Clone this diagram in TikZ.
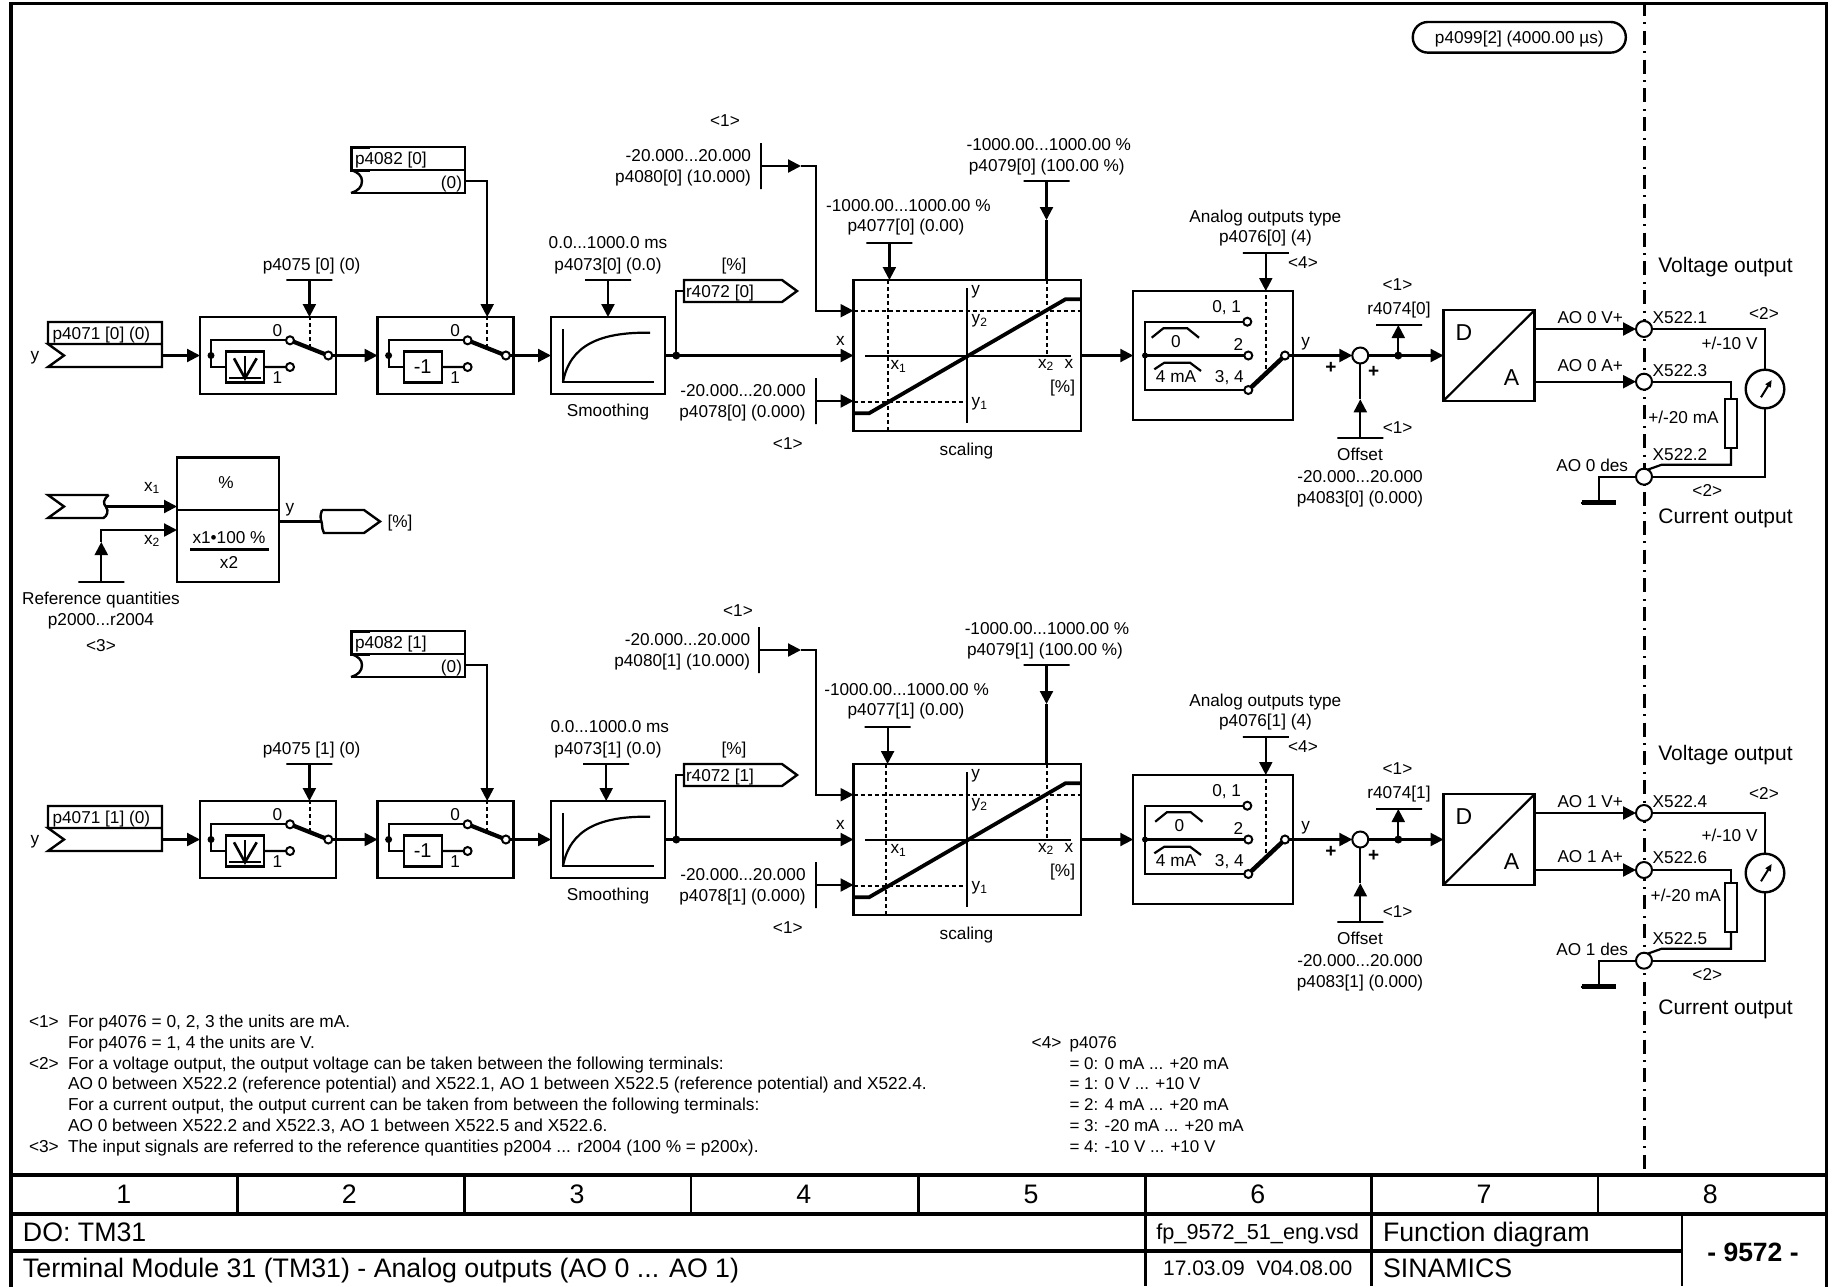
\documentclass[tikz,border=0pt]{standalone}
\usepackage{fontspec}
\setmainfont{Liberation Sans}
\usetikzlibrary{arrows.meta}
\tikzset{
  wire/.style={line width=2.2pt},
  sig/.style={wire,-{Triangle[length=13pt,width=13pt]}},
  dotted line/.style={line width=2pt,dash pattern=on 4pt off 3pt},
  blk/.style={draw,line width=2.4pt,inner sep=0pt,outer sep=0pt},
  lbl/.style={inner sep=0pt,outer sep=0pt,text height=12.3pt,text depth=0pt,font=\fontsize{17.2}{20}\selectfont},
  lblw/.style={lbl,anchor=west},
  lble/.style={lbl,anchor=east},
  sym/.style={inner sep=0pt,outer sep=0pt,font=\fontsize{17.2}{20}\selectfont},
  big/.style={lbl,text height=19pt,font=\fontsize{26.75}{30}\selectfont},
  outlbl/.style={inner sep=0pt,outer sep=0pt,font=\fontsize{21}{24}\selectfont},
  note/.style={lblw,text height=12.4pt,font=\fontsize{17.3}{20}\selectfont},
  hbar/.style={draw,line width=2.2pt,inner sep=0pt,outer sep=0pt,minimum width=46pt,minimum height=0pt},
  vbar/.style={draw,line width=2.2pt,inner sep=0pt,outer sep=0pt,minimum height=46pt,minimum width=0pt},
  cont/.style={circle,draw,fill=white,line width=2pt,inner sep=0pt,outer sep=0pt,minimum size=8pt},
  term/.style={circle,draw,fill=white,line width=2pt,inner sep=0pt,outer sep=0pt,minimum size=16pt},
  jn/.style={circle,fill=black,inner sep=0pt,outer sep=0pt,minimum size=7pt},
  blade/.style={line width=4.2pt},
}

\begin{document}
\begin{tikzpicture}[x=1pt,y=-1pt]
  \useasboundingbox (0,0) rectangle (1832,1286);

  % Sheet frame and the cabinet border.
  \draw[line width=3.2pt] (11,3.4) rectangle (1826.5,1292);
  \draw[line width=3pt,dash pattern=on 14pt off 6.4pt on 2pt off 6.42pt,dash phase=1pt] (1644,3) -- (1644,1175);

  \node[blk,lbl,rounded corners=15pt,minimum width=213pt,minimum height=30.6pt] (cycleT) at (1519.3,37.3) {p4099[2] (4000.00 µs)};

  % Normalisation block.
  \node[blk,minimum width=102pt,minimum height=124.5pt] (pct) at (228,519.75) {};
  \draw[wire,line width=2.4pt] (pct.west |- 0,510) coordinate (pctL) -- (pct.east |- 0,510);
  \node[sym] (pctT) at (226,483) {\%};
  \node[lbl] (pctA) at (229,537) {x1•100 \%};
  \draw[wire] (190,549.4) -- (269,549.4);
  \node[lbl] (pctB) at (229,562.5) {x2};
  \draw[line width=2.4pt,line join=miter] (108.7,495) -- (48,495) -- (64,506.5) -- (48,518) -- (103.5,518)
    .. controls (107,516) and (109,511) .. (106,507) .. controls (103,503) and (103,500) .. (108.7,495);
  \coordinate (inPct) at (106,506.5);
  \draw[sig] (inPct) -- (inPct -| pct.west);
  \node[sym] (x1Lbl) at (152,488) {x\textsubscript{1}};
  \node[hbar] (bRef) at (101.3,582) {};
  \coordinate (kRef) at (101.3,542);
  \draw[sig] (bRef.center) -- (kRef);
  \coordinate (xRef) at (177,530);
  \draw[sig] (kRef) |- (xRef);
  \node[sym] (x2Lbl) at (152,541) {x\textsubscript{2}};
  \node[lbl] (refA) at (101,598) {Reference quantities};
  \node[lbl] (refB) at (101,619) {p2000...r2004};
  \node[lbl] (refC) at (101,645) {<3>};
  \node[sym] (yPct) at (290,509.5) {y};
  \coordinate (outPct) at (322,521.5);
  \draw[wire] (pct.east |- outPct) -- (outPct);
  \draw[line width=2.4pt,line join=miter] (322,510) -- (364,510) -- (380,521.5) -- (364,533) -- (324,533)
    .. controls (321,527) and (323,525) .. (321,520) .. controls (320,516) and (321,513) .. (322,510);
  \node[lbl] (pctU) at (400,521.5) {[\%]};

  % The two output channels.
  \foreach \ch/\dy/\dx/\tx/\ta/\tb/\tc/\ybb/\yab/\xab/\yten/\ytw/\xtw/\ytop/\yvo/\ycu/\xlt/\ylt in {
    0/0/0/0/1/3/2/381.7/365.7/370.7/343.3/417.3/1648.3/313.3/267.3/518.8/725/120.7,
    1/484/-1.8/3.5/4/6/5/386/372/373.3/351.7/411.7/1650.7/309.3/270.6/525/738/126.7}{
  \begin{scope}[shift={(0,\dy)}]
    % Input tag and inversion tag.
    \draw[line width=2.4pt,line join=miter] (48,344) -- (48,322) -- (162,322) -- (162,367) -- (48,367)
      -- (64,355.5) -- (48,344) -- (162,344);
    \node[lblw] (p71\ch) at (52.6,333) {p4071 [\ch] (0)};
    \node[sym] (yIn\ch) at (35,358) {y};
    \coordinate (in\ch) at (162,355.5);

    \draw[line width=2.4pt,line join=miter] (351,147) rectangle (465,170);
    \draw[line width=2.4pt] (351,193) -- (465,193) -- (465,170);
    \draw[line width=2.4pt] (351,170) .. controls (358,172) and (362,176) .. (362,181)
      .. controls (362,187) and (358,191) .. (351,193);
    \draw[line width=3pt] (370,147) -- (351,147) -- (351,170) -- (370,170);
    \node[lblw] (p82\ch) at (355,158) {p4082 [\ch]};
    \node[lble] (p82v\ch) at (462,182) {(0)};
    \coordinate (o82\ch) at (465,181);

    % Inverter and sign switches.
    \foreach \i/\sx/\txt in {1/0/{},2/177.6/{-1}}{
      \begin{scope}[shift={(\sx,0)}]
        \node[blk,minimum width=136pt,minimum height=77pt] (sw\i\ch) at (268,355.5) {};
        \node[blk,minimum width=38pt,minimum height=31pt,font=\fontsize{20}{22}\selectfont] (sm\i\ch) at (245.1,366.8) {\txt};
        \node[jn] (j\i\ch) at (211,355.5) {};
        \node[cont] (ca\i\ch) at (290,340.3) {};
        \node[cont] (cb\i\ch) at (290,367) {};
        \node[cont] (m\i\ch) at (328.3,355.5) {};
        \draw[wire] (j\i\ch.center) |- (ca\i\ch);
        \draw[wire] (j\i\ch.center) |- (sm\i\ch);
        \draw[wire] (sm\i\ch) -- (cb\i\ch);
        \draw[blade] (ca\i\ch) -- (m\i\ch);
        \node[sym] (zA\i\ch) at (277.5,330.5) {0};
        \node[sym] (oA\i\ch) at (277.5,378) {1};
        \coordinate (ds\i\ch) at (309.6,348);
        \draw[dotted line] (ds\i\ch) -- (ds\i\ch |- sw\i\ch.north);
      \end{scope}
    }
    \draw[line width=2.6pt] (234,358.3) -- (245,378.3) -- (256.7,358.3);
    \draw[wire] (245,356) -- (245,378);
    \draw[wire] (229.3,377.7) -- (260.7,377.7);
    \draw[sig] (in\ch) -- (sw1\ch);
    \draw[sig] (m1\ch) -- (sw2\ch);
    \node[lbl] (p75\ch) at (311.6,264.6) {p4075 [\ch] (0)};
    \node[hbar] (b75\ch) at (309.4,280) {};
    \draw[sig] (b75\ch.center) -- (b75\ch |- sw1\ch.north);
    \draw[sig] (o82\ch) -| (ds2\ch |- sw2\ch.north);

    % Smoothing.
    \node[blk,minimum width=114pt,minimum height=77pt] (sth\ch) at (608,355.5) {};
    \draw[wire] (563,329) -- (563,382) -- (654,382);
    \draw[wire] (563,382) .. controls (570,345) and (600,332) .. (650,332.7);
    \node[lbl] (sthT\ch) at (608,410) {Smoothing};
    \node[lbl] (p73a\ch) at (608-\dx,242) {0.0...1000.0 ms};
    \node[lbl] (p73\ch) at (608,264) {p4073[\ch] (0.0)};
    \node[hbar] (b73\ch) at (608+\dx,280) {};
    \draw[sig] (b73\ch.center) -- (b73\ch |- sth\ch.north);
    \draw[sig] (m2\ch) -- (sth\ch);

    % Scaling characteristic.
    \node[blk,minimum width=227.5pt,minimum height=151pt] (sc\ch) at (967.25,355.5) {};
    \node[lbl] (scT\ch) at (966.5,449) {scaling};
    \draw[wire] (967,288) -- (967,423.3);
    \draw[wire] (865,356) -- (1070.5,356);
    \draw[dotted line] (853.5,310.7) -- (1081,310.7);
    \draw[dotted line] (853.5,402) -- (967,402);
    \draw[dotted line] (888+\dx,280) -- (888+\dx,431);
    \draw[dotted line] (1046.6,280) -- (1046.6,356);
    \draw[line width=3.8pt] (853.5,413.3) -- (869,413.3) -- (1065.4,299.3) -- (1081,299.3);
    \node[sym] (sy\ch) at (975.6,291.5) {y};
    \node[sym] (sy2\ch) at (979.6,321) {y\textsubscript{2}};
    \node[sym] (sy1\ch) at (979.6,404) {y\textsubscript{1}};
    \node[sym] (sx1\ch) at (898.5,366.7) {x\textsubscript{1}};
    \node[sym] (sx2\ch) at (1046,365) {x\textsubscript{2}};
    \node[sym] (sx\ch) at (1069,364) {x};
    \node[lbl] (su\ch) at (1062.6,386.7) {[\%]};
    \node[sym] (sxi\ch) at (840.4,340.7) {x};

    \node[jn,minimum size=8pt] (jr\ch) at (676.3,355.5) {};
    \draw[sig] (sth\ch) -- (sc\ch);
    \coordinate (rt\ch) at (684,291);
    \draw[wire] (jr\ch.center) |- (rt\ch);
    \draw[line width=2.4pt,line join=miter] (684,280) -- (782,280) -- (797,291) -- (782,302) -- (684,302) -- cycle;
    \node[lblw] (r72\ch) at (686,291) {r4072 [\ch]};
    \node[lbl] (r72u\ch) at (734,264) {[\%]};

    \node[lbl] (n1a\ch) at (\xlt,\ylt) {<1>};
    \node[lble] (p80a\ch) at (751+\dx/2,155) {-20.000...20.000};
    \node[lble] (p80\ch) at (751+\dx/2,176) {p4080[\ch] (10.000)};
    \node[vbar] (b80\ch) at (761+\dx,166) {};
    \coordinate (k80\ch) at (801,166);
    \coordinate (y2\ch) at (853.5,310.7);
    \draw[sig] (b80\ch.center) -- (k80\ch);
    \draw[sig] (k80\ch) -- (816,166) |- (y2\ch);

    \node[lble] (p78a\ch) at (805.6,390) {-20.000...20.000};
    \node[lble] (p78\ch) at (805.6,411) {p4078[\ch] (0.000)};
    \node[vbar] (b78\ch) at (816,401) {};
    \draw[sig] (b78\ch.center) -- (b78\ch -| sc\ch.west);
    \node[lbl] (n1b\ch) at (787.8,443) {<1>};

    \node[lbl] (p77a\ch) at (908.4+\dx,205) {-1000.00...1000.00 \%};
    \node[lbl] (p77\ch) at (906,225.7) {p4077[\ch] (0.00)};
    \node[hbar] (b77\ch) at (889.4+\dx,243) {};
    \draw[sig] (b77\ch.center) -- (b77\ch |- sc\ch.north);

    \node[lbl] (p79a\ch) at (1048.8+\dx,144) {-1000.00...1000.00 \%};
    \node[lbl] (p79\ch) at (1046.8+\dx,165) {p4079[\ch] (100.00 \%)};
    \node[hbar] (b79\ch) at (1046.5,181.3) {};
    \coordinate (k79\ch) at (1046.5,220);
    \draw[sig] (b79\ch.center) -- (k79\ch);
    \draw[wire] (k79\ch) -- (k79\ch |- sc\ch.north);

    % Output type selection.
    \node[blk,minimum width=159.5pt,minimum height=129pt] (an\ch) at (1213,355.5) {};
    \node[jn,minimum size=6pt] (j4\ch) at (1145,355.5) {};
    \node[cont] (c0\ch) at (1247.3,321.7) {};
    \node[cont] (c2\ch) at (1248.3,355.5) {};
    \node[cont] (c3\ch) at (1248.3,390) {};
    \node[cont] (mo\ch) at (1285,355.5) {};
    \draw[wire] (j4\ch.center) |- (c0\ch);
    \draw[wire] (j4\ch.center) -- (c2\ch);
    \draw[wire] (j4\ch.center) |- (c3\ch);
    \draw[blade,line width=4.5pt] (c3\ch) -- (mo\ch);
    \draw[dotted line] (1265.7,369) -- (1265.7,291);
    \draw[wire] (1151.7+\tx,337.7) -- (1163.3+\tx,328.3) -- (1187.3+\tx,328.3) -- (1199+\tx,337.7);
    \draw[wire] (1154.3,369.3) -- (1164.3,362.7) -- (1190,362.7) -- (1201,371);
    \node[sym] (tz\ch) at (1176+\tx,342) {0};
    \node[sym] (tf\ch) at (1176,376.7) {4 mA};
    \node[sym] (t01\ch) at (1226.7,307.3) {0, 1};
    \node[sym] (t2\ch) at (1238.3,344) {2};
    \node[sym] (t34\ch) at (1229.3,378) {3, 4};
    \draw[sig] (sc\ch) -- (an\ch);
    \node[lbl] (atA\ch) at (1265.3,216) {Analog outputs type};
    \node[lbl] (atB\ch) at (1265.5,236.5) {p4076[\ch] (4)};
    \node[hbar] (b76\ch) at (1265.8,253) {};
    \draw[sig] (b76\ch.center) -- (b76\ch |- an\ch.north);
    \node[lbl] (n4\ch) at (1303,262.5) {<4>};

    % Offset summing point.
    \node[term] (sum\ch) at (1360.3,355.5) {};
    \node[sym] (yOut\ch) at (1305.7,343.5) {y};
    \draw[sig] (mo\ch) -- (sum\ch);
    \node[sym,font=\fontsize{19}{20}\selectfont\bfseries] (pa\ch) at (1331,368) {+};
    \node[sym,font=\fontsize{19}{20}\selectfont\bfseries] (pb\ch) at (1373.7,371.7) {+};
    \node[hbar] (b83\ch) at (1360.3,438.3) {};
    \coordinate (k83\ch) at (1360.3,399.3);
    \draw[sig] (b83\ch.center) -- (k83\ch);
    \draw[wire] (k83\ch) -- (sum\ch);
    \node[lbl] (n1c\ch) at (1397.7,427) {<1>};
    \node[lbl] (offA\ch) at (1360,454.6) {Offset};
    \node[lbl] (offB\ch) at (1360,476) {-20.000...20.000};
    \node[lbl] (p83\ch) at (1360,497.5) {p4083[\ch] (0.000)};

    % D/A converter.
    \node[blk,minimum width=91pt,minimum height=90.5pt] (da\ch) at (1489,355.5) {};
    \draw[wire] (da\ch.south west) -- (da\ch.north east);
    \node[sym,font=\fontsize{23}{25}\selectfont] (daD\ch) at (1464,333) {D};
    \node[sym,font=\fontsize{23}{25}\selectfont] (daA\ch) at (1511.6,378) {A};
    \draw[sig] (sum\ch) -- (da\ch);
    \node[jn,minimum size=8pt] (j5\ch) at (1398.3,355.5) {};
    \node[hbar] (b74\ch) at (1399,325) {};
    \draw[sig] (j5\ch.center) -- (j5\ch |- b74\ch);
    \node[lbl] (r74\ch) at (1399,308) {r4074[\ch]};
    \node[lbl] (n1d\ch) at (1397.5,284) {<1>};

    % Terminals.
    \node[term] (te1\ch) at (1644,329) {};
    \node[term] (te2\ch) at (1644,\ybb) {};
    \node[term] (te3\ch) at (1644,476.7) {};
    \node[blk,circle,minimum size=38.6pt] (met\ch) at (1765,389) {};
    \node[blk,line width=2pt,minimum width=11.7pt,minimum height=48.7pt] (res\ch) at (1731,423.3) {};
    \coordinate (kr\ch) at (1661.7,464.7);
    \draw[sig] (da\ch.east |- te1\ch) -- (te1\ch);
    \draw[sig] (da\ch.east |- te2\ch) -- (te2\ch);
    \draw[wire] (te1\ch) -| (met\ch);
    \draw[wire] (met\ch) |- (te3\ch);
    \draw[wire] (te2\ch) -| (res\ch);
    \draw[wire] (res\ch) |- (kr\ch) -- (te3\ch.62);
    \draw[-{Triangle[length=7pt,width=6pt]},line width=2pt] (1761,397.3) -- (1771.7,380);
    \node[draw,fill=black,line width=0pt,inner sep=0pt,outer sep=0pt,minimum width=34pt,minimum height=4.5pt,rounded corners=2pt] (gnd\ch) at (1598.8,502.3) {};
    \draw[wire] (te3\ch) -| (gnd\ch);
    \node[lble] (aoV\ch) at (1623,317) {AO \ch\ V+};
    \node[lble] (aoA\ch) at (1623,\yab) {AO \ch\ A+};
    \node[lble] (aoD\ch) at (1628,465) {AO \ch\ des};
    \node[lblw] (xa\ch) at (1652.7,317) {X522.\ta};
    \node[lblw] (xb\ch) at (1652.7,\xab) {X522.\tb};
    \node[lblw] (xc\ch) at (1652.7,454.3) {X522.\tc};
    \node[lbl] (n2a\ch) at (1764,\ytop) {<2>};
    \node[lbl] (n2b\ch) at (1707.3,490.7) {<2>};
    \node[lble] (vr\ch) at (1757.5,\yten) {+/-10 V};
    \node[lblw] (ir\ch) at (\xtw,\ytw) {+/-20 mA};
    \node[outlbl] (vo\ch) at (1725.5,\yvo) {Voltage output};
    \node[outlbl] (co\ch) at (1725.5,\ycu) {Current output};
  \end{scope}
  }

  % Notes.
  \foreach \yy/\txt [count=\i] in {
    1021.7/{For p4076 = 0, 2, 3 the units are mA.},
    1042.7/{For p4076 = 1, 4 the units are V.},
    1063/{For a voltage output, the output voltage can be taken between the following terminals:},
    1083.7/{AO 0 between X522.2 (reference potential) and X522.1, AO 1 between X522.5 (reference potential) and X522.4.},
    1104.7/{For a current output, the output current can be taken from between the following terminals:},
    1125.7/{AO 0 between X522.2 and X522.3, AO 1 between X522.5 and X522.6.},
    1146.7/{The input signals are referred to the reference quantities p2004 ... r2004 (100 \% = p200x).}}{
    \node[note] (fn\i) at (68,\yy) {\txt};
  }
  \foreach \yy/\txt [count=\i] in {1021.7/<1>,1063/<2>,1146.7/<3>}{
    \node[note] (fm\i) at (29,\yy) {\txt};
  }
  \node[note] (gm) at (1031.7,1042.7) {<4>};
  \foreach \yy/\txt [count=\i] in {
    1042.7/p4076,
    1063/{= 0: 0 mA ... +20 mA},
    1083.7/{= 1: 0 V ... +10 V},
    1104.7/{= 2: 4 mA ... +20 mA},
    1125.7/{= 3: -20 mA ... +20 mA},
    1146.7/{= 4: -10 V ... +10 V}}{
    \node[note,font=\fontsize{17}{20}\selectfont] (gn\i) at (1069.6,\yy) {\txt};
  }

  % Title block.
  \draw[line width=3.2pt] (11,1175) -- (1826.5,1175);
  \draw[line width=3.2pt] (11,1214) -- (1826.5,1214);
  \draw[line width=3.2pt] (11,1251) -- (1682,1251);
  \foreach \cx in {237.7,464.4,691,918.5,1145.6,1371.6,1598}{
    \draw[line width=2.6pt] (\cx,1175) -- (\cx,1214);
  }
  \foreach \cx in {1145.6,1371.6,1682}{
    \draw[line width=2.6pt] (\cx,1214) -- (\cx,1286);
  }
  \foreach \n/\cx in {1/123.8,2/349.3,3/577,4/803.7,5/1031,6/1257.7,7/1484,8/1710.4}{
    \node[big] (col\n) at (\cx,1194.3) {\n};
  }
  \node[big,anchor=west] (doT) at (23,1232.3) {DO: TM31};
  \node[big,anchor=west] (tiT) at (23,1268) {Terminal Module 31 (TM31) - Analog outputs (AO 0 ... AO 1)};
  \node[lbl,text height=15pt,font=\fontsize{21.7}{24}\selectfont] (fpT) at (1257.7,1232.3) {fp\_9572\_51\_eng.vsd};
  \node[lbl,text height=15pt,font=\fontsize{21}{24}\selectfont] (dtT) at (1257.7,1268) {17.03.09\ \ V04.08.00};
  \node[big,anchor=west] (fdT) at (1383,1232.3) {Function diagram};
  \node[big,anchor=west] (siT) at (1383,1268) {SINAMICS};
  \node[big,font=\fontsize{26.5}{30}\selectfont\bfseries] (nrT) at (1753,1251.7) {- 9572 -};
\end{tikzpicture}
\end{document}
